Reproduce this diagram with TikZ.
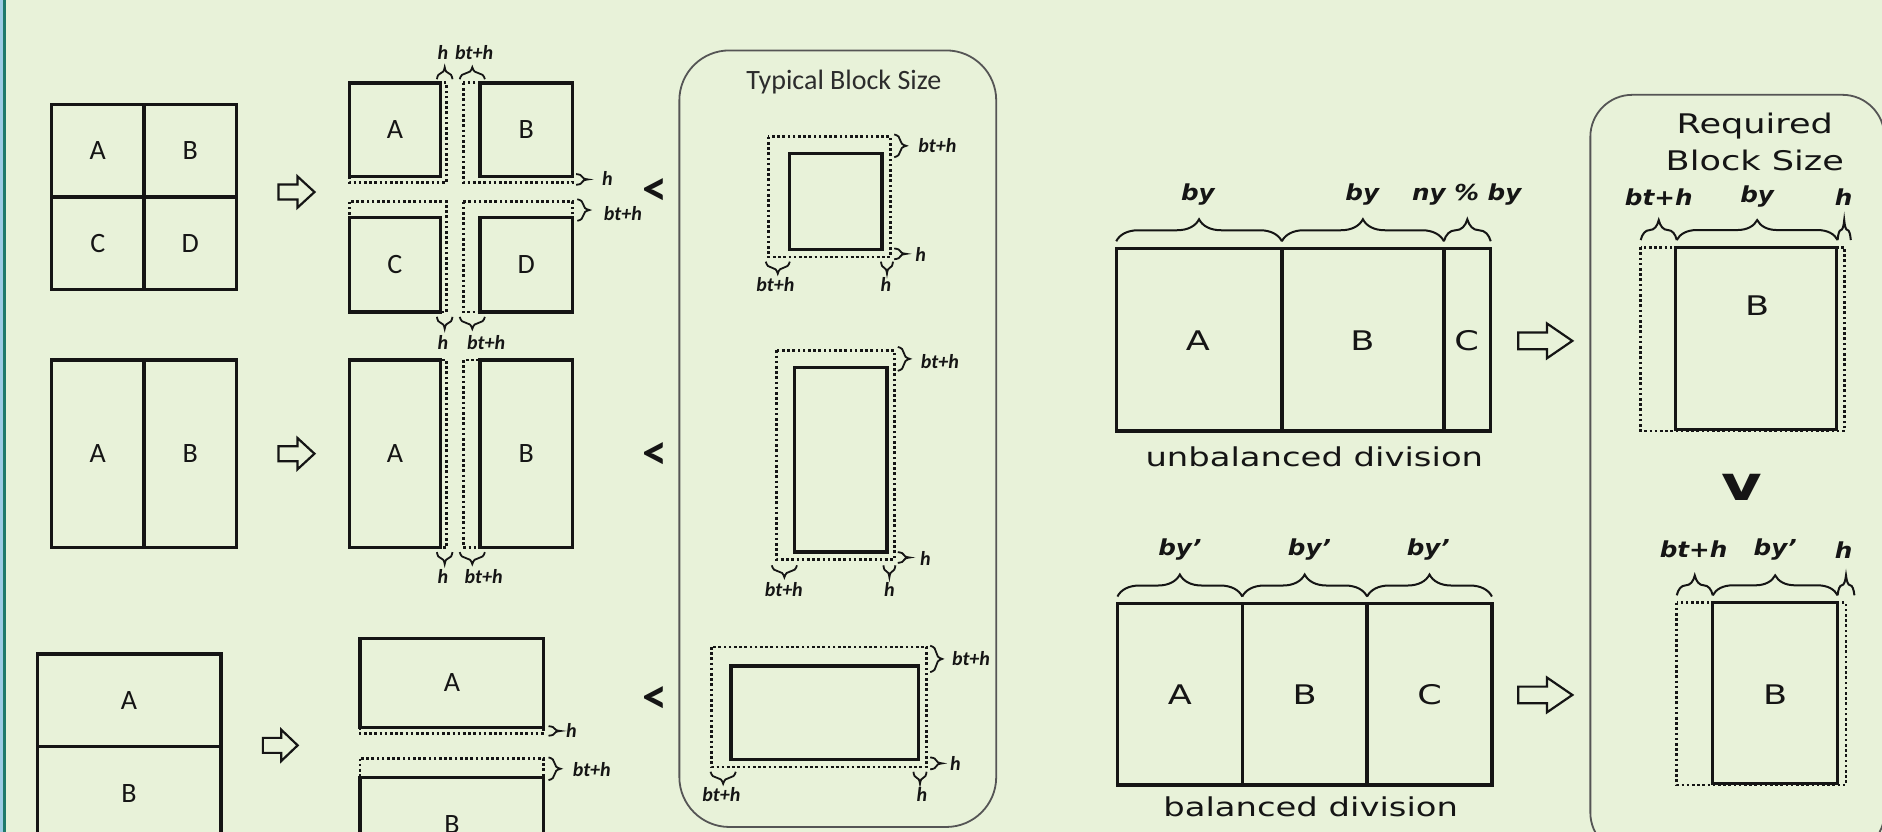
\documentclass[tikz,border=0pt]{standalone}
\usepackage{fontspec}
\setmainfont{Carlito}
\newfontfamily\rfont[FakeStretch=1.3]{DejaVu Sans}
\newfontfamily\rlfont[FakeStretch=1.12]{DejaVu Sans}
\usetikzlibrary{decorations.pathreplacing}
\definecolor{bg}{HTML}{E8F2D9}
\definecolor{edgeblue}{HTML}{9CCBE4}
\definecolor{edgeteal}{HTML}{1F7A6A}
\definecolor{ink}{HTML}{151515}
\definecolor{boxgray}{HTML}{555555}
\tikzset{
  solidbox/.style={draw=ink, line width=3.4pt},
  dotbox/.style={draw=ink, line width=2.7pt, dash pattern=on 2.6pt off 2.6pt},
  brc/.style={draw=ink, line width=1.8pt, decorate, decoration={brace, amplitude=12pt}},
  bigbrc/.style={draw=ink, line width=2pt, decorate, decoration={brace, amplitude=22pt}},
  midbrc/.style={draw=ink, line width=2pt, decorate, decoration={brace, amplitude=20pt}},
  lab/.style={inner sep=0pt, text=ink, font=\fontsize{20}{20}\selectfont\bfseries\itshape},
  rlab/.style={inner sep=0pt, text=ink, font=\rlfont\fontsize{22}{22}\selectfont\bfseries\itshape},
  cell/.style={inner sep=0pt, text=ink, font=\fontsize{28}{28}\selectfont},
  rcell/.style={inner sep=0pt, text=ink, font=\rfont\fontsize{27}{27}\selectfont},
  rtext/.style={inner sep=0pt, text=ink, font=\rfont\fontsize{26}{26}\selectfont},
  lt/.style={inner sep=0pt, text=ink, font=\fontsize{50}{50}\selectfont\bfseries},
  roundbox/.style={draw=boxgray, line width=1.8pt},
  harrow/.pic={\draw[draw=ink, line width=2.2pt, fill=bg] (0,-0.24) -- (0.53,-0.24) -- (0.53,-0.5) -- (1,0) -- (0.53,0.5) -- (0.53,0.24) -- (0,0.24) -- cycle;}
}
\begin{document}
\begin{tikzpicture}[x=1.2pt,y=-1.2pt]
\useasboundingbox (0,0) rectangle (1568,693);
\clip (0,0) rectangle (1568,693);
\fill[bg] (0,0) rectangle (1568,693);
\fill[edgeblue] (0,0) rectangle (2.8,693);
\fill[edgeteal] (2.8,0) rectangle (5.2,693);

% ---------- Row 1 ----------
\draw[solidbox] (43,87) rectangle (197,241);
\draw[solidbox] (120,87) -- (120,241);
\draw[solidbox] (43,164) -- (197,164);
\node[cell] (g1a) at (81.5,125.5) {A};
\node[cell] (g1b) at (158.5,125.5) {B};
\node[cell] (g1c) at (81.5,202.5) {C};
\node[cell] (g1d) at (158.5,202.5) {D};
\pic[xscale=30,yscale=26] at (232,160) {harrow};

\draw[dotbox] (291,69) rectangle (372,152);
\draw[dotbox] (386,69) rectangle (477,152);
\draw[dotbox] (291,168) rectangle (372,260);
\draw[dotbox] (386,168) rectangle (477,260);
\draw[solidbox, fill=bg] (291,69) rectangle (367,147);
\draw[solidbox, fill=bg] (400,69) rectangle (477,147);
\draw[solidbox, fill=bg] (291,181) rectangle (367,260);
\draw[solidbox, fill=bg] (400,181) rectangle (477,260);
\node[cell] (r1a) at (329,108) {A};
\node[cell] (r1b) at (438.5,108) {B};
\node[cell] (r1c) at (329,220.5) {C};
\node[cell] (r1d) at (438.5,220.5) {D};
\draw[brc] (364,66) -- (377,66);
\node[lab] (t1h) at (369,44) {h};
\draw[brc] (383,66) -- (404,66);
\node[lab] (t1bt) at (395,44) {bt+h};
\draw[brc] (480,145) -- (480,154);
\node[lab] (r1h) at (506,149) {h};
\draw[brc] (481,166) -- (481,184);
\node[lab] (r1bt) at (519,178) {bt+h};
\draw[brc] (377,264) -- (364,264);
\node[lab] (b1h) at (369,285) {h};
\draw[brc] (404,264) -- (383,264);
\node[lab] (b1bt) at (405,285) {bt+h};
\node[lt] (lt1) at (546,160) {<};

% ---------- Row 2 ----------
\draw[solidbox] (43,300) rectangle (197,456);
\draw[solidbox] (120,300) -- (120,456);
\node[cell] (g2a) at (81.5,378) {A};
\node[cell] (g2b) at (158.5,378) {B};
\pic[xscale=30,yscale=26] at (232,378) {harrow};
\draw[dotbox] (291,300) rectangle (372,456);
\draw[dotbox] (386,300) rectangle (477,456);
\draw[solidbox, fill=bg] (291,300) rectangle (367,456);
\draw[solidbox, fill=bg] (400,300) rectangle (477,456);
\node[cell] (r2a) at (329,378) {A};
\node[cell] (r2b) at (438.5,378) {B};
\draw[brc] (377,460) -- (364,460);
\node[lab] (b2h) at (369,480) {h};
\draw[brc] (404,460) -- (383,460);
\node[lab] (b2bt) at (403,480) {bt+h};
\node[lt] (lt2) at (546,380) {<};

% ---------- Row 3 ----------
\draw[solidbox] (31,545) rectangle (184,730);
\draw[solidbox] (31,622) -- (184,622);
\node[cell] (g3a) at (107.5,583.5) {A};
\node[cell] (g3b) at (107.5,661) {B};
\pic[xscale=29,yscale=26] at (219,621) {harrow};
\draw[dotbox] (300,532) rectangle (453,611);
\draw[dotbox] (300,632) rectangle (453,760);
\draw[solidbox, fill=bg] (300,532) rectangle (453,606);
\draw[solidbox, fill=bg] (300,648) rectangle (453,760);
\node[cell] (r3a) at (376.5,569) {A};
\node[cell] (r3b) at (376.5,687) {B};
\draw[brc] (457,605) -- (457,613);
\node[lab] (r3h) at (476,609) {h};
\draw[brc] (457,631) -- (457,650);
\node[lab] (r3bt) at (493,641) {bt+h};
\node[lt] (lt3) at (546,583) {<};

% ---------- Typical block size ----------
\draw[roundbox, rounded corners=50pt] (566,42) rectangle (830,689);
\node[inner sep=0pt, text=ink!90, font=\fontsize{28}{28}\selectfont] (typ) at (703,68) {Typical Block Size};
% square
\draw[dotbox] (640,114) rectangle (742,214);
\draw[solidbox, fill=bg] (658,128) rectangle (735,208);
\draw[brc] (745,112) -- (745,131);
\node[lab] (sq1) at (781,121) {bt+h};
\draw[brc] (745,207) -- (745,216);
\node[lab] (sq2) at (767,212) {h};
\draw[brc] (658,218) -- (638,218);
\node[lab] (sq3) at (646,237) {bt+h};
\draw[brc] (744,218) -- (734,218);
\node[lab] (sq4) at (738,237) {h};
% tall
\draw[dotbox] (647,292) rectangle (745,466);
\draw[solidbox, fill=bg] (662,306) rectangle (739,460);
\draw[brc] (748,289) -- (748,309);
\node[lab] (tl1) at (783,301) {bt+h};
\draw[brc] (748,460) -- (748,469);
\node[lab] (tl2) at (771,465) {h};
\draw[brc] (664,471) -- (643,471);
\node[lab] (tl3) at (653,491) {bt+h};
\draw[brc] (746,471) -- (736,471);
\node[lab] (tl4) at (741,491) {h};
% wide
\draw[dotbox] (593,539) rectangle (772,639);
\draw[solidbox, fill=bg] (609,555) rectangle (765,633);
\draw[brc] (775,538) -- (775,560);
\node[lab] (wd1) at (809,549) {bt+h};
\draw[brc] (775,631) -- (775,641);
\node[lab] (wd2) at (796,636) {h};
\draw[brc] (613,643) -- (592,643);
\node[lab] (wd3) at (601,662) {bt+h};
\draw[brc] (772,643) -- (761,643);
\node[lab] (wd4) at (768,662) {h};

% ---------- Unbalanced ----------
\draw[solidbox] (930,207) rectangle (1242,359);
\draw[solidbox] (1068,207) -- (1068,359);
\draw[solidbox] (1203,207) -- (1203,359);
\node[rcell] (ua) at (998,284) {A};
\node[rcell] (ub) at (1135,284) {B};
\node[rcell] (uc) at (1222,284) {C};
\draw[bigbrc] (930,201) -- (1068,201);
\draw[bigbrc] (1068,201) -- (1203,201);
\draw[bigbrc] (1203,201) -- (1242,201);
\node[rlab] (uby1) at (998,162) {by};
\node[rlab] (uby2) at (1135,162) {by};
\node[rlab] (uby3) at (1222,162) {ny \% by};
\node[rtext] (ut) at (1095,381) {unbalanced division};
\pic[xscale=45,yscale=29] at (1265,284) {harrow};

% ---------- Balanced ----------
\draw[solidbox] (931,503) rectangle (1243,654);
\draw[solidbox] (1035,503) -- (1035,654);
\draw[solidbox] (1139,503) -- (1139,654);
\node[rcell] (ba) at (983,579) {A};
\node[rcell] (bb) at (1087,579) {B};
\node[rcell] (bc) at (1191,579) {C};
\draw[bigbrc] (931,497) -- (1035,497);
\draw[bigbrc] (1035,497) -- (1139,497);
\draw[bigbrc] (1139,497) -- (1243,497);
\node[rlab] (bby1) at (983,458) {by’};
\node[rlab] (bby2) at (1091,458) {by’};
\node[rlab] (bby3) at (1190,458) {by’};
\node[rtext] (bt) at (1092,672) {balanced division};
\pic[xscale=45,yscale=29] at (1265,579) {harrow};

% ---------- Required block size ----------
\draw[roundbox, rounded corners=42pt] (1325,79) rectangle (1570,712);
\node[rtext, align=center, font=\rfont\fontsize{27}{37}\selectfont] (req) at (1462,118) {Required\\Block Size};
\draw[dotbox] (1367,206) rectangle (1537,359);
\draw[solidbox, fill=bg] (1396,206) rectangle (1530,358);
\node[rcell] (qb1) at (1464,255) {B};
\draw[midbrc] (1367,200) -- (1397,200);
\draw[midbrc] (1397,200) -- (1531,200);
\draw[midbrc] (1531,200) -- (1542,200);
\node[rlab] (q1) at (1382,164) {bt+h};
\node[rlab] (q2) at (1464,164) {by};
\node[rlab] (q3) at (1536,164) {h};
\node[inner sep=0pt, text=ink, font=\rfont\fontsize{48}{48}\selectfont\bfseries] (gt) at (1451,406) {v};
\draw[dotbox] (1397,502) rectangle (1538,654);
\draw[solidbox, fill=bg] (1427,502) rectangle (1531,653);
\node[rcell] (qb2) at (1479,579) {B};
\draw[midbrc] (1397,496) -- (1427,496);
\draw[midbrc] (1427,496) -- (1531,496);
\draw[midbrc] (1531,496) -- (1545,496);
\node[rlab] (q4) at (1411,458) {bt+h};
\node[rlab] (q5) at (1479,458) {by’};
\node[rlab] (q6) at (1536,458) {h};
\end{tikzpicture}
\end{document}
